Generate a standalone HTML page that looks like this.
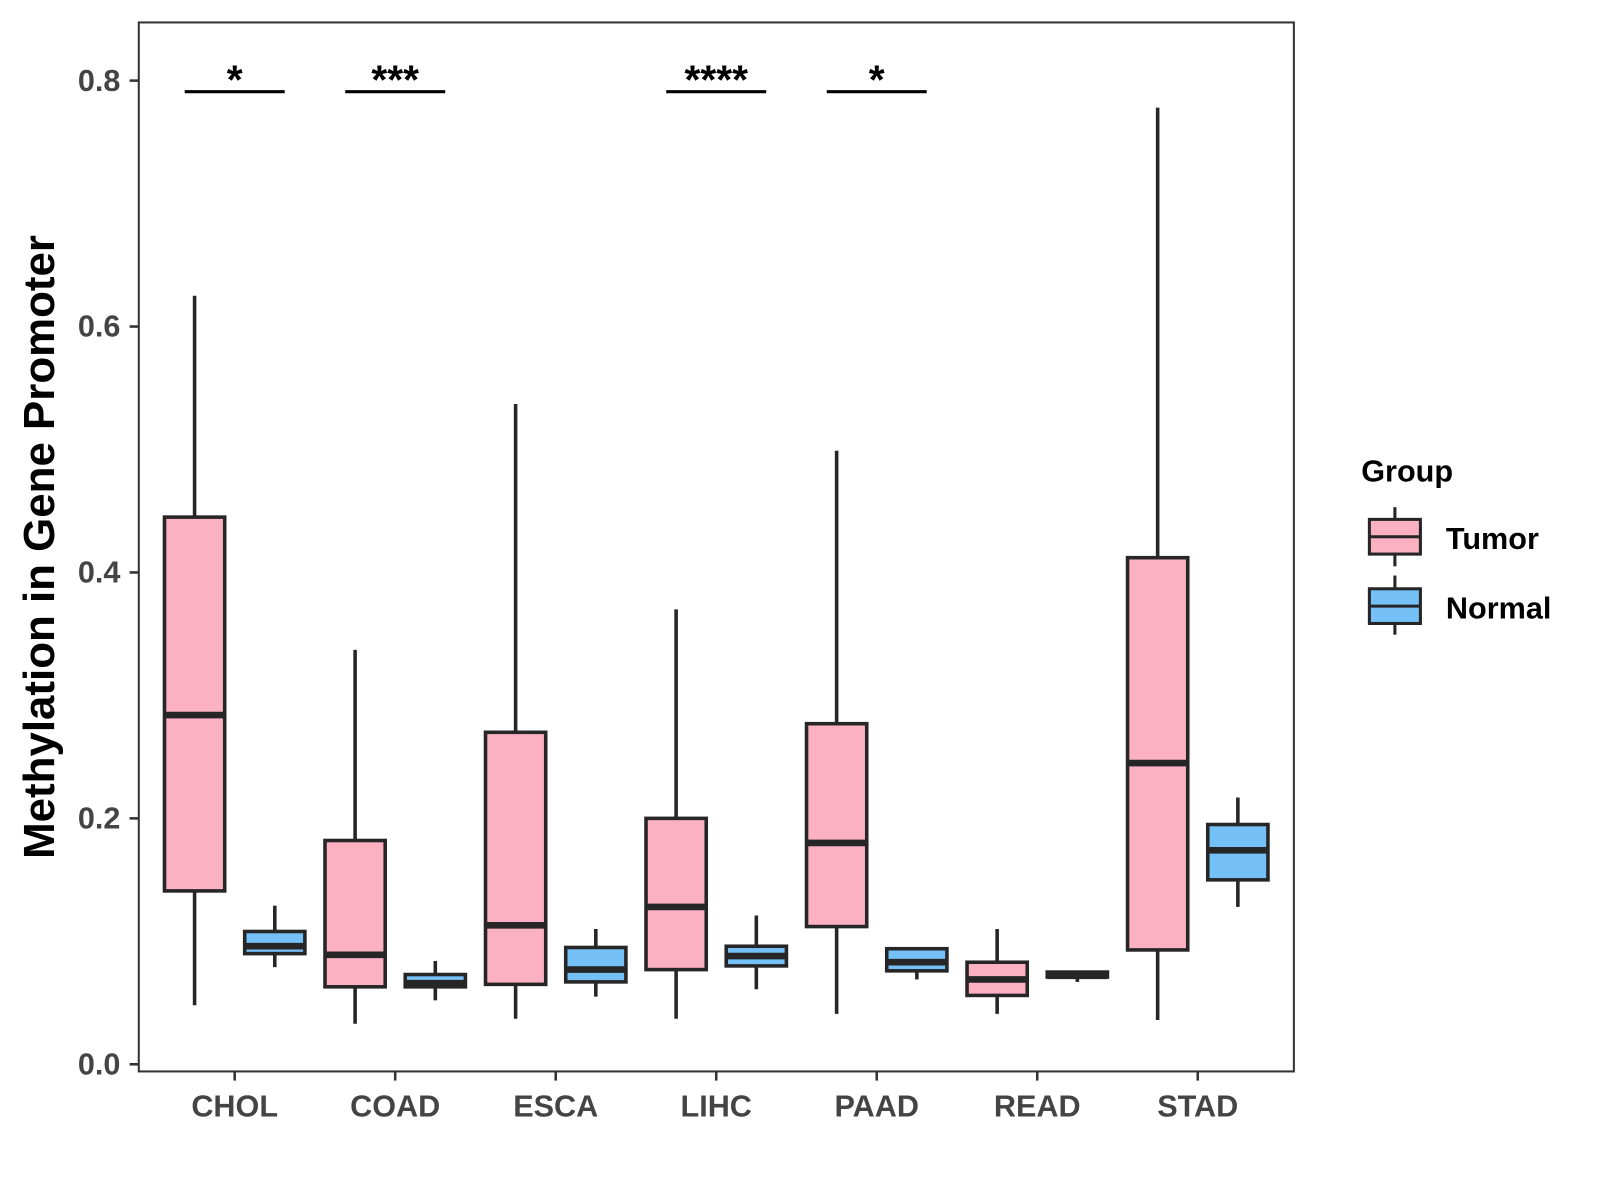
<!DOCTYPE html>
<html><head><meta charset="utf-8"><style>
html,body{margin:0;padding:0;background:#fff;}
svg{display:block;font-family:"Liberation Sans",Arial,sans-serif;}
</style></head><body>
<svg id="chart" width="1600" height="1200" viewBox="0 0 1568 1176" xmlns="http://www.w3.org/2000/svg">
<rect x="0" y="0" width="1568" height="1176" fill="#fff"/>
<rect x="136" y="22" width="1132" height="1028" fill="#fff" stroke="#333" stroke-width="2"/>
<g id="ticks"></g>
<g id="boxes"></g>
<g id="sig"></g>
<text transform="translate(53,536) rotate(-90)" text-anchor="middle" font-size="43" font-weight="bold" fill="#000">Methylation in Gene Promoter</text>
<g>
<text x="1334" y="472" font-size="30" font-weight="bold">Group</text>
<g>
<line x1="1367" y1="497" x2="1367" y2="555" stroke="#262626" stroke-width="3"/>
<rect x="1342" y="509" width="50" height="34" fill="#FBB1C1" stroke="#262626" stroke-width="3"/>
<line x1="1342" y1="526" x2="1392" y2="526" stroke="#262626" stroke-width="3"/>
<text x="1417" y="538" font-size="30" font-weight="bold">Tumor</text>
</g>
<g>
<line x1="1367" y1="564" x2="1367" y2="622" stroke="#262626" stroke-width="3"/>
<rect x="1342" y="577" width="50" height="34" fill="#74C0F7" stroke="#262626" stroke-width="3"/>
<line x1="1342" y1="594" x2="1392" y2="594" stroke="#262626" stroke-width="3"/>
<text x="1417" y="606" font-size="30" font-weight="bold">Normal</text>
</g>
</g>
</svg>
<script>
const categories = ["CHOL","COAD","ESCA","LIHC","PAAD","READ","STAD"];
// [low, q1, median, q3, high]
const tumorStats = [
  [0.048,0.141,0.284,0.445,0.625],
  [0.033,0.063,0.089,0.182,0.337],
  [0.037,0.065,0.113,0.270,0.537],
  [0.037,0.077,0.128,0.200,0.370],
  [0.041,0.112,0.180,0.277,0.499],
  [0.041,0.056,0.069,0.083,0.110],
  [0.036,0.093,0.245,0.412,0.778]
];
const normalStats = [
  [0.079,0.090,0.096,0.108,0.129],
  [0.052,0.063,0.066,0.073,0.084],
  [0.055,0.067,0.077,0.095,0.110],
  [0.061,0.080,0.088,0.096,0.121],
  [0.069,0.076,0.083,0.094,0.095],
  [0.067,0.071,0.072,0.075,0.076],
  [0.128,0.150,0.174,0.195,0.217]
];
const sigLabels = ["*","***","","****","*","",""];
const sigY = 0.791;
const yTicks = [0,0.2,0.4,0.6,0.8];
const yTickLabels = ["0.0","0.2","0.4","0.6","0.8"];

const NS="http://www.w3.org/2000/svg";
function yS(v){return 1043 - v*1205;}
function xS(i){return 230 + i*157.3;}
function mk(tag,attrs,parent){const e=document.createElementNS(NS,tag);for(const k in attrs)e.setAttribute(k,attrs[k]);parent.appendChild(e);return e;}
const tg=document.getElementById('ticks'), bg=document.getElementById('boxes'), sg=document.getElementById('sig');
yTicks.forEach((v,i)=>{
  const l=mk('line',{x1:127,x2:136,y1:yS(v),y2:yS(v),stroke:'#333','stroke-width':2.5},tg);
  
  
  const t=mk('text',{x:118,y:yS(v)+10,'text-anchor':'end','font-size':30,'font-weight':'bold',fill:'#444'},tg);
  t.textContent=yTickLabels[i];
  
  
});
categories.forEach((c,i)=>{
  const l=mk('line',{x1:xS(i),x2:xS(i),y1:1050,y2:1059,stroke:'#333','stroke-width':2.5},tg);
  
  
  const t=mk('text',{x:xS(i),y:1094,'text-anchor':'middle','font-size':30,'font-weight':'bold',fill:'#444'},tg);
  t.textContent=c;
  
  
});
function box(s,cx,fill,name){
  const g=mk('g',{},bg);
  
  
  mk('line',{x1:cx,x2:cx,y1:yS(s[0]),y2:yS(s[4]),stroke:'#262626','stroke-width':3.5},g);
  mk('rect',{x:cx-29.5,y:yS(s[3]),width:59,height:yS(s[1])-yS(s[3]),fill:fill,stroke:'#262626','stroke-width':3.5},g);
  mk('line',{x1:cx-29.5,x2:cx+29.5,y1:yS(s[2]),y2:yS(s[2]),stroke:'#262626','stroke-width':6.5},g);
}
categories.forEach((c,i)=>{
  box(tumorStats[i],xS(i)-39.3,'#FBB1C1','box-tumor-'+c.toLowerCase());
  box(normalStats[i],xS(i)+39.3,'#74C0F7','box-normal-'+c.toLowerCase());
  if(sigLabels[i]){
    const g=mk('g',{},sg);
    
    
    mk('line',{x1:xS(i)-49,x2:xS(i)+49,y1:yS(sigY),y2:yS(sigY),stroke:'#000','stroke-width':3},g);
    const t=mk('text',{x:xS(i),y:yS(sigY)+2,'text-anchor':'middle','font-size':40,'font-weight':'bold',fill:'#000'},g);
    t.textContent=sigLabels[i];
  }
});
</script>
</body></html>
